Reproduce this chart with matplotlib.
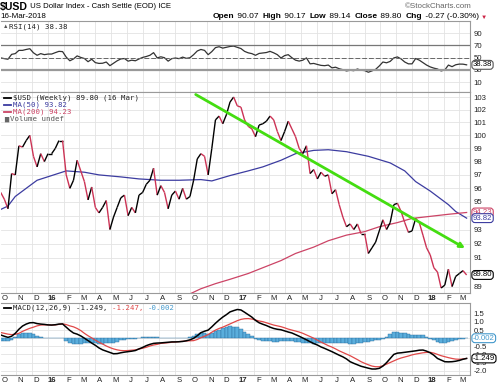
import numpy as np
import matplotlib
matplotlib.use('Agg')
import matplotlib.pyplot as plt
import matplotlib.dates as mdates
import matplotlib.transforms as mtrans
from matplotlib.collections import LineCollection
from matplotlib.lines import Line2D
from matplotlib.ticker import NullLocator, FixedLocator, FixedFormatter

plt.rcParams['font.family'] = ['Liberation Sans', 'DejaVu Sans']

# $USD weekly closes, 2 Oct 2015 .. 16 Mar 2018
close = [95.7, 95.2, 94.5, 97.1, 97.0, 99.2, 99.1, 99.6, 100.0, 98.4,
         97.6, 98.6, 98.0, 98.6, 98.6, 99.0, 99.6, 99.6, 97.0, 96.0,
         96.6, 98.1, 97.3, 96.5, 95.15, 96.1, 94.6, 94.2, 94.6, 95.1,
         93.0, 93.9, 94.6, 95.3, 95.5, 94.0, 94.6, 94.2, 95.5, 95.7,
         96.3, 96.6, 97.5, 95.5, 96.2, 95.7, 94.5, 95.5, 95.8, 95.2,
         96.0, 95.2, 95.4, 96.6, 98.2, 98.6, 98.4, 97.0, 99.0, 101.2,
         101.5, 100.9, 101.6, 102.6, 103.0, 102.3, 102.2, 101.2, 100.7, 100.5,
         99.9, 100.8, 100.9, 101.1, 101.5, 101.2, 100.3, 99.6, 100.3, 101.1,
         100.5, 99.9, 99.0, 98.6, 99.2, 97.1, 97.4, 96.7, 97.2, 96.9,
         97.0, 95.6, 95.9, 94.8, 93.9, 93.2, 93.4, 93.0, 93.4, 92.7,
         92.7, 91.3, 91.7, 92.1, 92.9, 93.7, 93.0, 93.5, 94.8, 94.9,
         94.3, 93.5, 92.8, 92.9, 93.8, 93.5, 92.6, 91.7, 91.2, 90.3,
         90.0, 88.9, 89.1, 90.2, 89.0, 89.7, 89.9, 90.1, 89.8]

# moving averages, read at a few weeks (index into the weekly series)
ma50_wk = [0, 2, 4, 8, 10, 14, 18, 23, 27, 33, 38, 44, 49, 55, 58, 63, 68, 72,
           77, 81, 86, 90, 95, 101, 107, 111, 114, 118, 123, 125, 128]
ma50_val = [94.45, 94.7, 95.4, 96.2, 96.6, 96.95, 97.3, 97.2, 97.0, 96.85, 96.7,
            96.6, 96.6, 96.65, 96.55, 96.95, 97.3, 97.6, 98.1, 98.6, 98.85, 98.9,
            98.75, 98.4, 97.9, 97.3, 96.5, 95.8, 94.8, 94.3, 93.82]
ma200_wk = [50, 52, 55, 59, 63, 68, 72, 77, 81, 86, 90, 95, 100, 104, 109, 113,
            118, 123, 128]
ma200_val = [88.2, 88.5, 88.85, 89.2, 89.5, 89.9, 90.3, 90.8, 91.3, 91.75, 92.2,
             92.6, 92.85, 93.2, 93.5, 93.8, 93.95, 94.1, 94.23]

rsi = [49.7, 48.5, 47.5, 55.5, 56.7, 62, 62, 63.5, 64.7, 58,
       54, 56.7, 55, 56, 56, 58.3, 60.4, 60, 51, 45,
       48, 53, 50.5, 48.7, 43.5, 47.5, 42, 40.7, 41, 43,
       37, 41, 45, 48, 48.7, 44.4, 46, 45, 48, 50.5,
       52, 54, 58.3, 49.7, 51.5, 50, 44.4, 48.5, 49.5, 48.5,
       51, 49, 50, 55, 61, 63.5, 62, 55, 60, 66.5,
       68, 65.7, 67, 68.4, 69, 67, 65, 60.4, 58, 56.7,
       54, 57, 57.7, 58.5, 60.4, 58, 55, 49.5, 53.5, 55,
       50, 46, 44.5, 46, 49.7, 40, 40.7, 39, 37.5, 37,
       38, 33.5, 34.5, 32, 30.5, 28.4, 29.5, 28.8, 31.6, 29.5,
       29, 26.3, 28.5, 31, 36.5, 43, 41.7, 44, 49.7, 51.3,
       48, 43, 40, 40, 48.7, 46, 42, 38, 35, 33,
       31.6, 28.4, 30, 38, 35.4, 38.5, 39.6, 39.5, 38.38]

macd = [0.2, 0.12, 0.05, 0.12, 0.3, 0.55, 0.75, 0.87, 0.95, 0.96,
        0.9, 0.87, 0.85, 0.82, 0.81, 0.83, 0.87, 0.88, 0.68, 0.48,
        0.32, 0.25, 0.14, 0.0, -0.15, -0.3, -0.44, -0.6, -0.72, -0.8,
        -0.88, -0.96, -0.95, -0.9, -0.86, -0.83, -0.8, -0.76, -0.66, -0.57,
        -0.46, -0.38, -0.32, -0.3, -0.29, -0.27, -0.25, -0.23, -0.23, -0.22,
        -0.2, -0.16, -0.1, -0.01, 0.15, 0.34, 0.43, 0.5, 0.7, 0.92,
        1.12, 1.3, 1.45, 1.62, 1.7, 1.77, 1.74, 1.6, 1.45, 1.3,
        1.1, 0.95, 0.86, 0.78, 0.68, 0.6, 0.55, 0.52, 0.45, 0.38,
        0.32, 0.22, 0.12, 0.01, -0.1, -0.22, -0.33, -0.42, -0.54, -0.63,
        -0.73, -0.83, -0.94, -1.05, -1.15, -1.28, -1.45, -1.55, -1.64, -1.73,
        -1.79, -1.85, -1.9, -1.9, -1.86, -1.72, -1.51, -1.25, -1.0, -0.92,
        -0.9, -0.87, -0.84, -0.81, -0.78, -0.74, -0.73, -0.8, -0.9, -1.05,
        -1.25, -1.35, -1.45, -1.46, -1.45, -1.42, -1.37, -1.3, -1.249]
signal = [0.35, 0.3, 0.25, 0.22, 0.24, 0.3, 0.42, 0.52, 0.61, 0.68,
          0.76, 0.81, 0.82, 0.82, 0.81, 0.82, 0.85, 0.88, 0.84, 0.76,
          0.7, 0.6, 0.47, 0.3, 0.15, 0.02, -0.12, -0.25, -0.36, -0.48,
          -0.58, -0.66, -0.72, -0.76, -0.77, -0.76, -0.74, -0.72, -0.67, -0.62,
          -0.56, -0.48, -0.42, -0.38, -0.32, -0.3, -0.28, -0.25, -0.23, -0.21,
          -0.19, -0.17, -0.16, -0.15, -0.08, 0.03, 0.12, 0.22, 0.37, 0.5,
          0.6, 0.68, 0.78, 0.88, 0.98, 1.08, 1.16, 1.2, 1.21, 1.18,
          1.12, 1.06, 1.02, 0.95, 0.88, 0.81, 0.76, 0.71, 0.64, 0.56,
          0.5, 0.44, 0.38, 0.3, 0.2, 0.1, 0.0, -0.12, -0.24, -0.35,
          -0.46, -0.55, -0.66, -0.78, -0.88, -0.98, -1.08, -1.2, -1.32, -1.45,
          -1.55, -1.64, -1.72, -1.76, -1.76, -1.7, -1.6, -1.5, -1.4, -1.3,
          -1.22, -1.16, -1.1, -1.03, -0.98, -0.94, -0.9, -0.88, -0.87, -0.92,
          -1.0, -1.08, -1.14, -1.2, -1.25, -1.29, -1.3, -1.28, -1.247]

trend_dates = ['2016-10-11', '2018-03-13']
trend_prices = [103.2, 91.67]

price_ticks = [89, 91, 92, 93, 95, 96, 97, 98, 99, 100, 101, 102, 103]
rsi_ticks = [10, 30, 50, 70, 90]
macd_ticks = [-2.0, -1.5, -1.0, -0.5, 0.5, 1.0, 1.5]
month_letters = 'JFMAMJJASOND'

W, H = 500, 387
UP = '#000000'
DOWN = '#cc3355'
BLUE = '#3c3ca0'
RED = '#cc4466'
GRID = '#e3e3e3'
FS = 5.6
MONO = ['DejaVu Sans Mono']

weeks = np.arange(np.datetime64('2015-10-02'), np.datetime64('2018-03-17'),
                  np.timedelta64(7, 'D'))
xd = mdates.date2num(weeks)
close = np.array(close)

fig = plt.figure(figsize=(W / 100, H / 100), dpi=100)


def box(top, bottom, left=1, right=470):
    return [left / W, 1 - bottom / H, (right - left) / W, (bottom - top) / H]


ax_rsi = fig.add_axes(box(21, 92))
ax_px = fig.add_axes(box(92, 293), sharex=ax_rsi)
ax_macd = fig.add_axes(box(303, 375), sharex=ax_rsi)

x0 = xd[0]
ax_rsi.set_xlim(x0 + 0.6, x0 + 902.5)

months = np.arange(np.datetime64('2015-10'), np.datetime64('2018-04'),
                   np.timedelta64(1, 'M'))
mpos = mdates.date2num(months.astype('datetime64[D]'))
mlab = []
for m in months:
    yr = int(str(m)[:4])
    mo = int(str(m)[5:7])
    mlab.append(str(yr)[2:] if mo == 1 else month_letters[mo - 1])

for ax in (ax_rsi, ax_px, ax_macd):
    ax.xaxis.set_major_locator(FixedLocator(mpos))
    ax.xaxis.set_major_formatter(FixedFormatter([''] * len(mpos)))
    ax.xaxis.set_minor_locator(FixedLocator(mpos + 8))
    ax.xaxis.set_minor_formatter(FixedFormatter(mlab))
    ax.grid(True, which='major', color=GRID, lw=0.6)
    ax.set_axisbelow(True)
    ax.yaxis.tick_right()
    ax.tick_params(which='both', length=0, labelsize=FS, pad=2.5, colors='#222222')
    ax.tick_params(axis='x', which='minor', pad=1.2)
    for s in ('top', 'bottom', 'right'):
        ax.spines[s].set_color('#9a9a9a')
        ax.spines[s].set_linewidth(0.8)
    ax.spines['left'].set_visible(False)
ax_rsi.tick_params(axis='x', which='both', labelbottom=False)

# ---- RSI panel
ax_rsi.plot(xd, rsi, color='#333333', lw=0.9)
ax_rsi.axhline(70, color='#777777', lw=0.9)
ax_rsi.axhline(30, color='#999999', lw=1.6)
ax_rsi.axhline(50, color='#666666', lw=0.7, dashes=(5, 2))
ax_rsi.set_ylim(-6, 110)
ax_rsi.set_yticks(rsi_ticks)

# ---- price panel
pts = np.column_stack([xd, close])
segs = np.stack([pts[:-1], pts[1:]], axis=1)
cols = [UP if b >= a else DOWN for a, b in zip(close[:-1], close[1:])]
ax_px.add_collection(LineCollection(segs, colors=cols, lw=1.0, zorder=4))
ax_px.plot(xd[ma50_wk], ma50_val, color=BLUE, lw=0.9, zorder=3)
ax_px.plot(xd[ma200_wk], ma200_val, color=RED, lw=0.9, zorder=3)
ax_px.set_yscale('log')
ax_px.set_ylim(88.56, 103.4)
ax_px.yaxis.set_major_locator(FixedLocator(price_ticks))
ax_px.yaxis.set_major_formatter(FixedFormatter([str(t) for t in price_ticks]))
ax_px.yaxis.set_minor_locator(FixedLocator([90, 94]))
ax_px.yaxis.set_minor_formatter(FixedFormatter(['', '']))
ax_px.grid(True, which='minor', axis='y', color=GRID, lw=0.6)

td = mdates.date2num(np.array(trend_dates, dtype='datetime64[D]'))
ax_px.annotate('', xy=(td[1], trend_prices[1]), xytext=(td[0], trend_prices[0]),
               arrowprops=dict(arrowstyle='-|>', color='#44dd11', lw=2.0,
                               mutation_scale=7, shrinkA=0, shrinkB=0), zorder=5)

# ---- MACD panel
hist = np.array(macd) - np.array(signal)
ax_macd.bar(xd, hist, width=7, color='#5aaedc', edgecolor='#2a6e9e', lw=0.3, zorder=2)
ax_macd.plot(xd, signal, color='#e04848', lw=0.9, zorder=3)
ax_macd.plot(xd, macd, color='#000000', lw=1.1, zorder=4)
ax_macd.set_ylim(-2.27, 2.17)
ax_macd.set_yticks(macd_ticks)
ax_macd.set_yticklabels(['%.1f' % t for t in macd_ticks])
ax_macd.yaxis.set_minor_locator(FixedLocator([0.0]))
ax_macd.yaxis.set_minor_formatter(FixedFormatter(['']))
ax_macd.grid(True, which='minor', axis='y', color=GRID, lw=0.6)

for ax in (ax_px, ax_macd):
    for lbl in ax.get_xticklabels(minor=True):
        if lbl.get_text().isdigit():
            lbl.set_fontweight('bold')


def tag(ax, y, s, ec, tc='#000000'):
    tr = mtrans.blended_transform_factory(ax.transAxes, ax.transData)
    ax.text(1.006, y, s, transform=tr, fontsize=FS, color=tc, va='center', ha='left',
            zorder=10, clip_on=False,
            bbox=dict(boxstyle='round,pad=0.12,rounding_size=0.4', fc='white', ec=ec, lw=0.8))


tag(ax_rsi, rsi[-1], '%.2f' % rsi[-1], '#555555')
tag(ax_px, ma200_val[-1], '%.2f' % ma200_val[-1], RED, RED)
tag(ax_px, ma50_val[-1], '%.2f' % ma50_val[-1], BLUE, BLUE)
tag(ax_px, close[-1], '%.2f' % close[-1], '#000000')
tag(ax_macd, hist[-1], '%.3f' % hist[-1], '#4499cc', '#4499cc')
tag(ax_macd, macd[-1], '%.3f' % macd[-1], '#000000')

# ---- texts
fig.canvas.draw()
rend = fig.canvas.get_renderer()


def ftext(x, y, s, **kw):
    kw.setdefault('fontsize', FS)
    return fig.text(x / W, 1 - y / H, s, va='center', **kw)


def chain(x, y, parts):
    for s, kw in parts:
        t = ftext(x, y, s, **kw)
        x = t.get_window_extent(rend).x1
    return x


def dash(x, y, color):
    fig.add_artist(Line2D([x / W, (x + 7) / W], [1 - y / H] * 2, color=color, lw=1.3,
                          transform=fig.transFigure))


chain(0, 7, [('$USD', dict(fontsize=7.6, fontweight='bold')),
             (' US Dollar Index - Cash Settle (EOD) ICE', dict(fontsize=5.6))])
ftext(0, 17, '16-Mar-2018', fontsize=5.8)
ftext(472, 6, '\u00a9StockCharts.com', fontsize=5.8, color='#666666', ha='right')
bold = dict(fontsize=6.0, fontweight='bold')
norm = dict(fontsize=6.0)
xe = chain(213, 17, [('Open', bold), (' 90.07  ', norm), ('High', bold), (' 90.17  ', norm),
                     ('Low', bold), (' 89.14  ', norm), ('Close', bold), (' 89.80  ', norm),
                     ('Chg', bold), (' -0.27 (-0.30%)', norm)])
ftext(xe + 2, 17.5, '\u25bc', fontsize=4.5, color='#cc2244')

ftext(3, 27, '\u25b2', fontsize=4, color='#555555')
ftext(9, 27, 'RSI(14) 38.38', fontsize=5.3, family=MONO, color='#222222')

dash(4, 98, UP)
ftext(13, 98, '$USD (Weekly) 89.80 (16 Mar)', fontsize=5.3, family=MONO, color='#222222')
dash(4, 105, BLUE)
ftext(13, 105, 'MA(50) 93.82', fontsize=5.3, family=MONO, color=BLUE)
dash(4, 112, RED)
ftext(13, 112, 'MA(200) 94.23', fontsize=5.3, family=MONO, color=RED)
ftext(4, 119, '\u2587', fontsize=4, color='#666666')
ftext(10, 119, 'Volume undef', fontsize=5.3, family=MONO, color='#555555')

dash(4, 308, '#000000')
mono = dict(fontsize=5.3, family=MONO)
chain(13, 308, [('MACD(12,26,9) -1.249, ', dict(color='#222222', **mono)),
                ('-1.247, ', dict(color='#e04848', **mono)),
                ('-0.002', dict(color='#4499cc', **mono))])

fig.savefig('out.png', dpi=100)
